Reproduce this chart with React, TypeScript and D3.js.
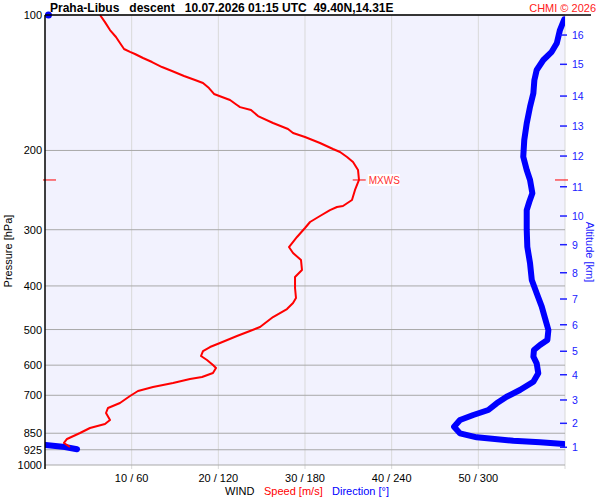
import * as d3 from 'd3'

// wind speed profile [hPa] / [m/s]
const speedPressure = [
  100, 103.7, 108, 111.9, 115.4, 119, 120.8, 122.1, 124.6, 127.2, 130.5, 133.2, 136.6, 139.5, 141.6,
  145.3, 149.8, 152.1, 154.5, 158.5, 160.2, 162.6, 167.7, 173.8, 179.2, 182.9, 186.7, 192.5, 198.5,
  201.6, 206.8, 212.2, 221.1, 232.6, 244.8, 257.7, 265.7, 267.1, 271.3, 279.7, 288.4, 297.4, 311.4,
  327.8, 338, 350.4, 368.6, 382.1, 404.3, 425.5, 436.5, 450.2, 469.1, 493.6, 503.8, 516.9, 535.7,
  546.8, 558.1, 572.5, 584.3, 599.5, 608.8, 624.6, 637.5, 644.1, 657.4, 671, 684.8, 702.5, 728.1,
  747, 766.4, 794.3, 810.8, 827.5, 848.9, 875.3, 893.4, 912,
]
const speedValues = [
  6.35, 6.92, 7.5, 8.19, 8.65, 9.12, 9.81, 10.38, 11.31, 12.35, 13.5, 14.65, 16.04, 17.31, 18.23,
  18.92, 19.5, 20.42, 21.35, 22.15, 22.5, 23.77, 24.58, 26.31, 28.04, 28.62, 30, 31.73, 33.23,
  34.04, 34.85, 35.54, 36.12, 36.23, 35.77, 35.42, 34.38, 33.69, 32.88, 31.73, 30.58, 30, 29.08,
  28.15, 28.62, 29.54, 29.65, 28.85, 28.85, 28.96, 28.62, 27.92, 26.31, 24.81, 23.65, 22.15, 20.19,
  19.04, 18.23, 18, 18.69, 19.38, 19.73, 19.38, 18.12, 16.73, 14.77, 12.46, 10.73, 9.81, 8.65,
  7.27, 7.04, 7.5, 6.92, 5.19, 4.04, 2.54, 2.19, 2.88,
]

// wind direction profile [hPa] / [deg]
const dirPressure = [
  100, 102.2, 108, 115.6, 120.7, 125.9, 132.5, 139.5, 149.3, 159.9, 174.1, 189.6, 206.5, 221.1,
  232.6, 249, 260, 271.3, 300.4, 327.3, 356.3, 388, 415.4, 444.8, 472.1, 501.2, 527.7, 541.3, 555.3,
  574.5, 594.3, 625.5, 653, 681.3, 705.1, 729.3, 754.7, 774.3, 794.3, 822, 850.6, 867.9, 883.1,
  890.5, 898.2, 902.8, 912, 922.8,
]
const dirValues = [
  1, 359.5, 356.5, 354.3, 350.8, 345, 340.4, 338.8, 338.1, 335.8, 333.5, 331.8, 331.1, 333.5,
  335.8, 337.4, 335.3, 333.5, 333.5, 333.9, 335.8, 337, 340.4, 343.9, 346.2, 348.5, 347.8, 342.7,
  338.5, 338.1, 340.4, 341.5, 338.1, 328.8, 319.6, 312.7, 306.9, 296.5, 287.3, 283.2, 287.3, 298.9,
  324.2, 342.7, 359.3, 0.5, 13.8, 22.2,
]

const maxWindPressure = 232.6
const maxWindSpeed = 36.2

const pressureTicks = [100, 200, 300, 400, 500, 600, 700, 850, 925, 1000]
const speedTicks = [10, 20, 30, 40, 50, 60]
const speedTickLabels = ['10 / 60', '20 / 120', '30 / 180', '40 / 240', '50 / 300', '']

// altitude ticks [km] and the pressure they fall on
const altitudeKm = [1, 2, 3, 4, 5, 6, 7, 8, 9, 10, 11, 12, 13, 14, 15, 16]
const altitudePressure = [
  913.3, 807.9, 717, 630.1, 558.8, 487.9, 427.7, 373.9, 323.9, 279.7, 240.8, 205.8, 176.5, 151.4,
  128.7, 110.8,
]

const title = 'Praha-Libus   descent   10.07.2026 01:15 UTC  49.40N,14.31E'

const font = 'Arial, "Liberation Sans", sans-serif'

export default function App() {
  const width = 600
  const height = 500
  const left = 45
  const right = 565
  const top = 15
  const bottom = 465

  const x = d3.scaleLinear([0, 60], [left, right])
  const xDir = d3.scaleLinear([0, 360], [left, right])
  const y = d3.scaleLog([100, 1000], [top, bottom])

  const speedData = speedPressure.map((p, i) => ({ p, v: speedValues[i] }))
  const speedLine = d3
    .line<{ p: number; v: number }>()
    .x((d) => x(d.v))
    .y((d) => y(d.p))

  // split direction where it wraps through north
  const segments: { p: number; v: number }[][] = []
  dirPressure.forEach((p, i) => {
    const d = { p, v: dirValues[i] }
    if (i === 0 || Math.abs(dirValues[i] - dirValues[i - 1]) > 180) segments.push([d])
    else segments[segments.length - 1].push(d)
  })
  const dirLine = d3
    .line<{ p: number; v: number }>()
    .x((d) => xDir(d.v))
    .y((d) => y(d.p))

  const ym = y(maxWindPressure)
  const xm = x(maxWindSpeed)

  return (
    <div style={{ position: 'absolute', left: 0, top: 0 }}>
      <svg width={width} height={height} style={{ display: 'block', background: '#fff' }}>
        <defs>
          <clipPath id="plot">
            <rect x={left} y={top} width={right - left} height={bottom - top} />
          </clipPath>
        </defs>
        <rect x={left} y={top} width={right - left} height={bottom - top} fill="#f2f2fe" />

        {speedTicks.map((s) => (
          <line key={s} x1={x(s)} x2={x(s)} y1={top} y2={bottom + 4} stroke="#d9d9d9" strokeWidth={1} />
        ))}
        {pressureTicks.map((p) => (
          <line key={p} x1={left} x2={right} y1={y(p)} y2={y(p)} stroke="#a9a9a9" strokeWidth={1} />
        ))}

        <g clipPath="url(#plot)">
          {segments.map((seg, i) =>
            seg.length > 1 ? (
              <path
                key={i}
                d={dirLine(seg) ?? ''}
                fill="none"
                stroke="#0000ff"
                strokeWidth={6}
                strokeLinejoin="round"
                strokeLinecap="round"
              />
            ) : null
          )}
        </g>
        {segments
          .filter((seg) => seg.length === 1)
          .map((seg, i) => (
            <circle key={i} cx={xDir(seg[0].v) + 2} cy={y(seg[0].p)} r={3.5} fill="#0000ff" />
          ))}
        <path d={speedLine(speedData) ?? ''} fill="none" stroke="#ff0000" strokeWidth={2} strokeLinejoin="round" />

        {/* max wind markers */}
        <g stroke="#ff0000" strokeWidth={1}>
          <line x1={left - 2} x2={left + 11} y1={ym} y2={ym} />
          <line x1={xm - 6} x2={xm + 7} y1={ym} y2={ym} />
          <line x1={right - 10} x2={right + 3} y1={ym} y2={ym} />
        </g>
        <rect x={xm + 9} y={ym - 6} width={32} height={12} fill="#fff" />
        <text x={xm + 10} y={ym + 4} fill="#ff3030" fontSize={10} fontFamily={font}>
          MXWS
        </text>

        {/* axes */}
        <line x1={left} x2={591} y1={top} y2={top} stroke="#000" strokeWidth={1.5} />
        <line x1={left} x2={left} y1={top} y2={bottom + 4} stroke="#000" strokeWidth={1.5} />

        {pressureTicks.map((p) => (
          <text key={p} x={left - 3} y={y(p) + 4} textAnchor="end" fontSize={11} fontFamily={font} fill="#000">
            {p}
          </text>
        ))}
        <text
          transform={`translate(12,251) rotate(-90)`}
          textAnchor="middle"
          fontSize={11}
          fontFamily={font}
          fill="#000"
        >
          Pressure [hPa]
        </text>

        {speedTicks.map((s, i) => (
          <text key={s} x={x(s)} y={482} textAnchor="middle" fontSize={11} fontFamily={font} fill="#000">
            {speedTickLabels[i]}
          </text>
        ))}
        <g fontSize={11} fontFamily={font}>
          <text x={225} y={495} fill="#000">WIND</text>
          <text x={264} y={495} fill="#ff0000">Speed [m/s]</text>
          <text x={332} y={495} fill="#0000ff">Direction [°]</text>
        </g>

        {altitudeKm.map((km, i) => (
          <g key={km} transform={`translate(0,${y(altitudePressure[i])})`}>
            <line x1={right - 5} x2={right + 2} stroke="#2020ff" strokeWidth={1.5} />
            <text x={right + 7} y={4} fontSize={10.5} fontFamily={font} fill="#2020ff">
              {km}
            </text>
          </g>
        ))}
        <text
          transform={`translate(586,252) rotate(90)`}
          textAnchor="middle"
          fontSize={11}
          fontFamily={font}
          fill="#2020ff"
        >
          Altitude [km]
        </text>

        <text x={50} y={12} fontSize={12} fontWeight="bold" fontFamily={font} fill="#000" style={{ whiteSpace: 'pre' }}>
          {title}
        </text>
        <text x={596} y={12} textAnchor="end" fontSize={11} fontFamily={font} fill="#ff2020">
          CHMI © 2026
        </text>
      </svg>
    </div>
  )
}
